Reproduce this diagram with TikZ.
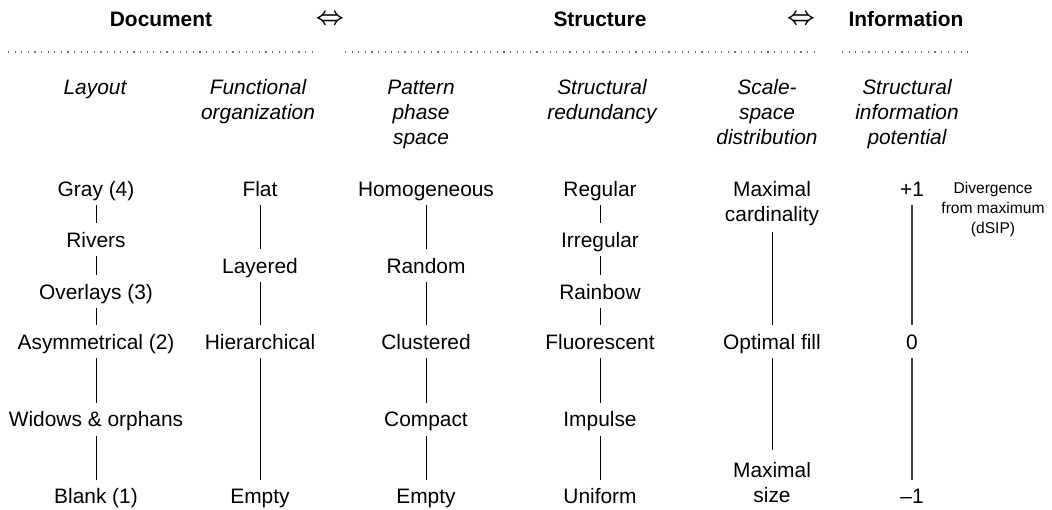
\documentclass[tikz,border=0pt]{standalone}
\usepackage{fontspec}
\setmainfont{Liberation Sans}
\begin{document}
\begin{tikzpicture}[x=1pt,y=-1pt,
  every node/.style={inner sep=0pt, outer sep=0pt},
  item/.style={font=\fontsize{20.9}{25}\selectfont, text height=16pt, text depth=1pt, inner ysep=8pt, inner xsep=2pt},
  multi/.style={font=\fontsize{20.9}{25}\selectfont, align=center, anchor=base},
  head/.style={font=\fontsize{20.9}{25}\selectfont\itshape, align=center, anchor=base},
  title/.style={font=\fontsize{20.9}{25}\selectfont\bfseries, anchor=base},
  arrowsym/.style={font=\fontsize{26}{26}\selectfont\boldmath},
  note/.style={font=\fontsize{15.6}{20}\selectfont, align=center, anchor=base},
  link/.style={line width=1pt, black},
  infolink/.style={line width=1.3pt, black!75},
  dots/.style={line width=1.1pt, black!55, dash pattern=on 1.1pt off 5.5pt}]
\useasboundingbox (0,0) rectangle (1052,510);

% titles
\node[title] (tdoc) at (161,26.5) {Document};
\node[arrowsym] (eq1) at (330,20) {$\Leftrightarrow$};
\node[title] (tstr) at (600,26.5) {Structure};
\node[arrowsym] (eq2) at (801,20) {$\Leftrightarrow$};
\node[title] (tinf) at (906,26.5) {Information};

% dotted rules
\draw[dots] (8,52) -- (315,52);
\draw[dots] (345,52) -- (815,52);
\draw[dots] (842,52) -- (968,52);

% column headers (anchor = baseline of last line)
\node[head] (hlay) at (95,94.5) {Layout};
\node[head] (hfun) at (258,119.5) {Functional\\organization};
\node[head] (hpat) at (421,144.5) {Pattern\\phase\\space};
\node[head] (hred) at (602,119.5) {Structural\\redundancy};
\node[head] (hsca) at (767,144.5) {Scale-\\space\\distribution};
\node[head] (hinf) at (907,144.5) {Structural\\information\\potential};

% Layout column
\node[item] (g4) at (96,189) {Gray (4)};
\node[item] (riv) at (96,240) {Rivers};
\node[item] (ovl) at (96,292) {Overlays (3)};
\node[item] (asym) at (96,342) {Asymmetrical (2)};
\node[item] (wid) at (96,419) {Widows \& orphans};
\node[item] (blank) at (96,496) {Blank (1)};
\draw[link] (g4) -- (riv);
\draw[link] (riv) -- (ovl);
\draw[link] (ovl) -- (asym);
\draw[link] (asym) -- (wid);
\draw[link] (wid) -- (blank);

% Functional organization column
\node[item] (flat) at (260,189) {Flat};
\node[item] (lay) at (260,266) {Layered};
\node[item] (hier) at (260,342) {Hierarchical};
\node[item] (emp1) at (260,496) {Empty};
\draw[link] (flat) -- (lay);
\draw[link] (lay) -- (hier);
\draw[link] (hier) -- (emp1);

% Pattern phase space column
\node[item] (hom) at (426,189) {Homogeneous};
\node[item] (rand) at (426,266) {Random};
\node[item] (clus) at (426,342) {Clustered};
\node[item] (comp) at (426,419) {Compact};
\node[item] (emp2) at (426,496) {Empty};
\draw[link] (hom) -- (rand);
\draw[link] (rand) -- (clus);
\draw[link] (clus) -- (comp);
\draw[link] (comp) -- (emp2);

% Structural redundancy column
\node[item] (reg) at (600,189) {Regular};
\node[item] (irr) at (600,240) {Irregular};
\node[item] (rain) at (600,292) {Rainbow};
\node[item] (flu) at (600,342) {Fluorescent};
\node[item] (imp) at (600,419) {Impulse};
\node[item] (uni) at (600,496) {Uniform};
\draw[link] (reg) -- (irr);
\draw[link] (irr) -- (rain);
\draw[link] (rain) -- (flu);
\draw[link] (flu) -- (imp);
\draw[link] (imp) -- (uni);

% Scale-space distribution column
\node[multi] (mc) at (772,221.5) {Maximal\\cardinality};
\node[item] (of) at (772,342) {Optimal fill};
\node[multi] (ms) at (772,502.5) {Maximal\\size};
\draw[link] ([yshift=-6pt]mc.south) -- (of.north);
\draw[link] (of.south) -- ([yshift=12pt]ms.north);

% Structural information potential column
\node[item] (p1) at (912,189) {+1};
\node[item] (z) at (912,342) {0};
\node[item] (m1) at (912,496) {–1};
\draw[infolink] (p1) -- (z);
\draw[infolink] (z) -- (m1);

\node[note] (div) at (993,233.6) {Divergence\\from maximum\\(dSIP)};
\end{tikzpicture}
\end{document}
